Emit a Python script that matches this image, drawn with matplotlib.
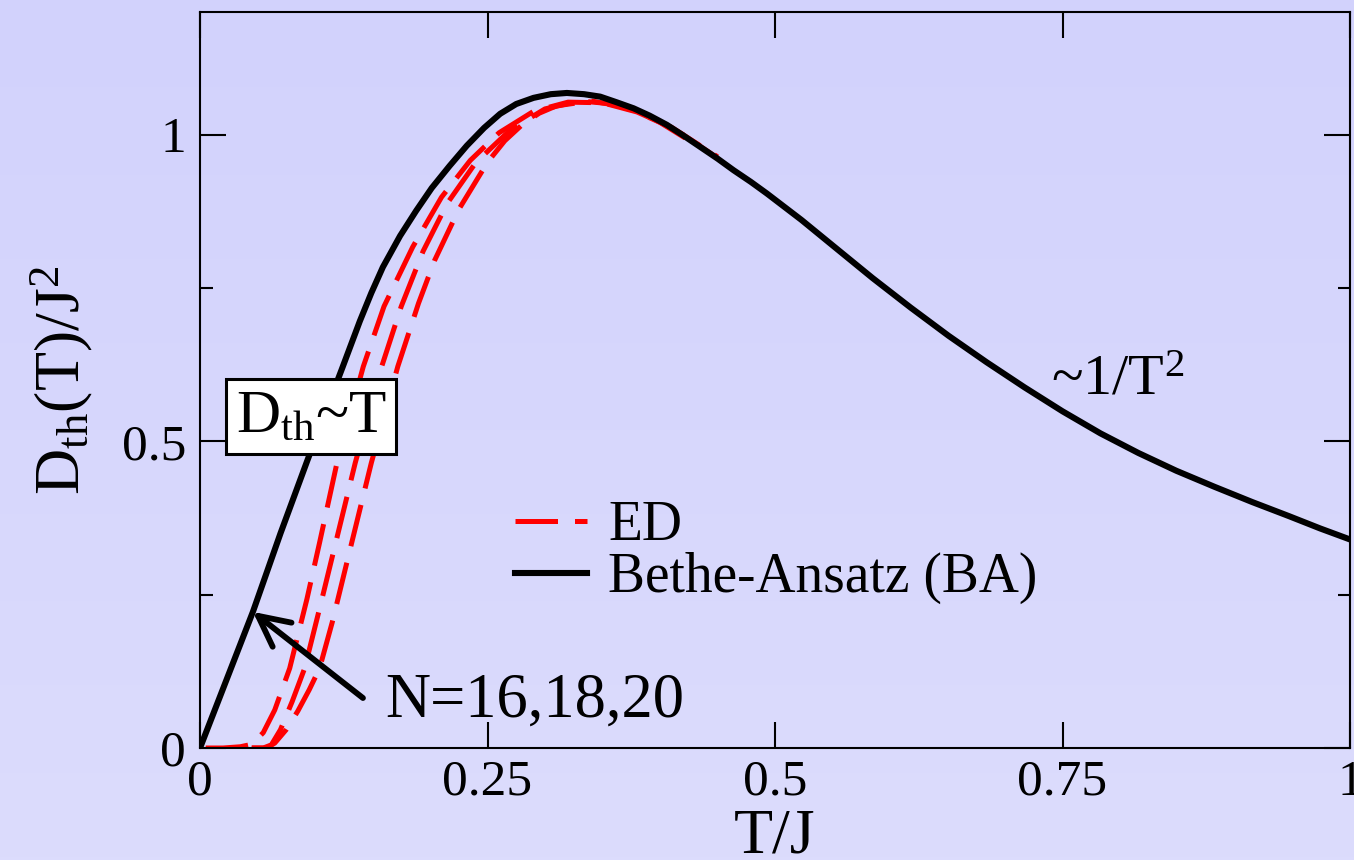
#!/usr/bin/env python3
"""Thermal Drude weight D_th(T)/J^2 vs T/J: ED (N=16,18,20) against the Bethe-Ansatz curve."""
import numpy as np
import matplotlib
matplotlib.use("Agg")
import matplotlib.pyplot as plt
from matplotlib.colors import LinearSegmentedColormap
from matplotlib.patches import FancyArrowPatch

# Bethe-Ansatz (BA)
BA_T = [0.0, 0.017, 0.046, 0.070, 0.093, 0.110, 0.124, 0.139, 0.149, 0.159, 0.174,
        0.188, 0.2015, 0.217, 0.232, 0.247, 0.261, 0.275, 0.290, 0.305, 0.319, 0.334,
        0.348, 0.362, 0.377, 0.391, 0.406, 0.420, 0.435, 0.450, 0.464, 0.479, 0.493,
        0.523, 0.553, 0.585, 0.618, 0.651, 0.684, 0.717, 0.750, 0.783, 0.816, 0.849,
        0.882, 0.915, 0.947, 0.974, 1.0]
BA_D = [0.0, 0.082, 0.222, 0.350, 0.467, 0.552, 0.621, 0.696, 0.742, 0.784, 0.835,
        0.876, 0.913, 0.949, 0.982, 1.011, 1.034, 1.050, 1.060, 1.066, 1.068, 1.066,
        1.062, 1.053, 1.043, 1.031, 1.016, 0.999, 0.980, 0.961, 0.942, 0.923, 0.904,
        0.861, 0.815, 0.766, 0.718, 0.672, 0.629, 0.588, 0.549, 0.513, 0.481, 0.452,
        0.426, 0.401, 0.378, 0.358, 0.340]

# exact diagonalisation, three system sizes (left to right)
ED1_T = [0.005, 0.020, 0.035, 0.045, 0.055, 0.065, 0.078, 0.093, 0.104, 0.119, 0.142,
         0.160, 0.185, 0.210, 0.235, 0.260, 0.290, 0.320, 0.350, 0.380, 0.410, 0.450]
ED1_D = [0.0, 0.0, 0.002, 0.006, 0.025, 0.062, 0.130, 0.243, 0.335, 0.464, 0.622,
         0.720, 0.817, 0.898, 0.958, 1.003, 1.038, 1.053, 1.052, 1.037, 1.012, 0.964]
ED2_T = [0.045, 0.055, 0.062, 0.070, 0.080, 0.091, 0.105, 0.120, 0.135, 0.158, 0.175,
         0.194, 0.215, 0.240, 0.270, 0.300, 0.330, 0.360, 0.390, 0.420, 0.450]
ED2_D = [0.0, 0.0, 0.005, 0.030, 0.075, 0.130, 0.235, 0.350, 0.465, 0.622, 0.720,
         0.810, 0.888, 0.955, 1.008, 1.042, 1.055, 1.050, 1.030, 1.000, 0.962]
ED3_T = [0.045, 0.058, 0.065, 0.075, 0.085, 0.095, 0.104, 0.115, 0.130, 0.149, 0.172,
         0.190, 0.204, 0.225, 0.250, 0.265, 0.280, 0.295, 0.310, 0.340, 0.370, 0.400,
         0.430]
ED3_D = [0.0, 0.0, 0.008, 0.030, 0.060, 0.095, 0.130, 0.205, 0.320, 0.465, 0.622,
         0.725, 0.795, 0.878, 0.955, 0.990, 1.016, 1.035, 1.047, 1.055, 1.045, 1.020,
         0.985]
ED_CURVES = [(ED1_T, ED1_D), (ED2_T, ED2_D), (ED3_T, ED3_D)]

X_TICKS = [0, 0.25, 0.5, 0.75, 1]
X_TICK_LABELS = ["0", "0.25", "0.5", "0.75", "1"]
Y_TICKS = [0, 0.5, 1]
Y_TICK_LABELS = ["0", "0.5", "1"]

BG_TOP, BG_BOTTOM = "#d2d2fc", "#dcdcfd"
SERIF = "Liberation Serif"


def main():
    plt.rcParams["font.family"] = SERIF
    plt.rcParams["mathtext.fontset"] = "custom"
    plt.rcParams["mathtext.rm"] = SERIF
    plt.rcParams["mathtext.it"] = SERIF + ":italic"

    fig = plt.figure(figsize=(13.54, 8.6), dpi=100)
    fig.patch.set_facecolor(BG_BOTTOM)

    # soft vertical background gradient behind everything
    bg = fig.add_axes([0, 0, 1, 1], zorder=-10)
    cmap = LinearSegmentedColormap.from_list("bg", [BG_TOP, BG_BOTTOM])
    bg.imshow(np.linspace(0, 1, 256)[:, None], cmap=cmap, aspect="auto",
              extent=[0, 1, 0, 1])
    bg.set_axis_off()

    ax = fig.add_axes([200 / 1354, 112 / 860, 1150 / 1354, 736 / 860])
    ax.set_facecolor("none")

    for i, (t, d) in enumerate(ED_CURVES):
        ax.plot(t, d, color="red", lw=3.6, ls=(0, (8.5, 3.4)),
                label="ED" if i == 0 else None, zorder=2)
    ax.plot(BA_T, BA_D, color="black", lw=4.4, label="Bethe-Ansatz (BA)", zorder=3)

    ax.set_xlim(0, 1)
    ax.set_ylim(0, 1.2)
    ax.set_xticks(X_TICKS)
    ax.set_xticklabels(X_TICK_LABELS)
    ax.set_yticks(Y_TICKS)
    ax.set_yticklabels(Y_TICK_LABELS)
    ax.set_yticks([0.25, 0.75], minor=True)
    ax.tick_params(which="both", direction="in", top=True, right=True, width=1.5,
                   labelsize=37)
    ax.tick_params(which="major", length=19)
    ax.tick_params(which="minor", length=9)
    ax.tick_params(axis="y", pad=10)
    ax.tick_params(axis="x", pad=8)
    for sp in ax.spines.values():
        sp.set_linewidth(1.5)

    ax.set_xlabel("T/J", fontsize=46, labelpad=2)
    ax.set_ylabel(r"D$_{\rm th}$(T)/J$^{2}$", fontsize=46, labelpad=19)

    ax.text(0.0965, 0.540, r"D$_{\rm th}$~T", fontsize=44, ha="center", va="center",
            bbox=dict(boxstyle="square,pad=0.16", fc="white", ec="black", lw=2.2))
    ax.text(0.740, 0.576, r"~1/T$^{2}$", fontsize=42, ha="left", va="baseline")
    ax.text(0.161, 0.051, "N=16,18,20", fontsize=45, ha="left", va="baseline")
    arrow = FancyArrowPatch((0.1417, 0.0815), (0.046, 0.222),
                            arrowstyle="->,head_length=1.1,head_width=0.55",
                            mutation_scale=20, color="black", linewidth=4.2,
                            shrinkA=0, shrinkB=0, zorder=4)
    ax.add_patch(arrow)

    ax.legend(loc="center left", bbox_to_anchor=(0.274, 0.266), frameon=False,
              fontsize=40, handlelength=1.3, handletextpad=0.38, labelspacing=0.0,
              borderpad=0, borderaxespad=0)

    fig.savefig("out.png", dpi=100, facecolor=fig.get_facecolor())


if __name__ == "__main__":
    main()
